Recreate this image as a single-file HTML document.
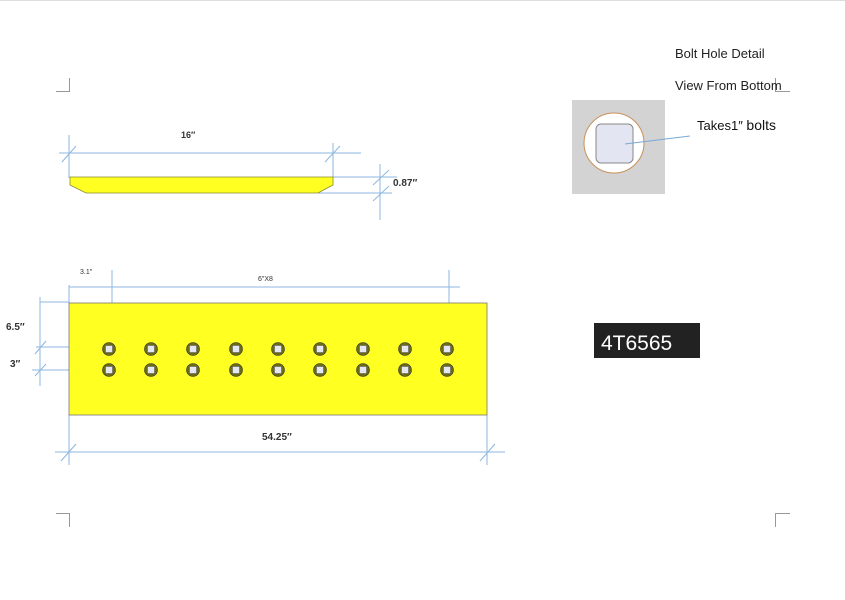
<!DOCTYPE html>
<html><head><style>
body{margin:0;background:#fff;}
svg{display:block;font-family:"Liberation Sans",sans-serif;}
</style></head><body>
<svg width="845" height="600" viewBox="0 0 845 600">
<defs>
<g id="h">
<circle cx="0" cy="0" r="6.5" fill="#6b6b10" stroke="#333" stroke-width="0.6"/>
<rect x="-3.5" y="-3.5" width="7" height="7" fill="#e4e6f0" stroke="#555" stroke-width="0.5"/>
</g>
</defs>
<rect width="845" height="600" fill="#fff"/>
<line x1="0" y1="0.5" x2="845" y2="0.5" stroke="#ddd"/>
<g stroke="#999" fill="none" stroke-width="1">
<path d="M69.5 78 V91.5 H56"/>
<path d="M775.5 78 V91.5 H790"/>
<path d="M56 513.5 H69.5 V527"/>
<path d="M790 513.5 H775.5 V527"/>
</g>
<g stroke="#8fb7e0" stroke-width="1" fill="none">
<line x1="59" y1="153" x2="361" y2="153"/>
<line x1="69" y1="135" x2="69" y2="178"/>
<line x1="333" y1="143" x2="333" y2="178"/>
<line x1="62" y1="162" x2="76" y2="146"/>
<line x1="325" y1="162" x2="340" y2="146"/>
<line x1="333" y1="177" x2="397" y2="177"/>
<line x1="318" y1="193" x2="392" y2="193"/>
<line x1="380" y1="164" x2="380" y2="220"/>
<line x1="373" y1="185" x2="389" y2="170"/>
<line x1="373" y1="201" x2="389" y2="186"/>
</g>
<polygon points="70,177 333,177 333,185 318,193 86,193 70,185" fill="#ffff22" stroke="#8a8a30" stroke-width="0.8"/>
<text x="181" y="138" font-size="9" font-weight="bold" fill="#333">16″</text>
<text x="393" y="186" font-size="10" font-weight="bold" fill="#333">0.87″</text>
<g stroke="#8fb7e0" stroke-width="1" fill="none">
<line x1="69" y1="287" x2="460" y2="287"/>
<line x1="112" y1="270" x2="112" y2="303"/>
<line x1="449" y1="270" x2="449" y2="303"/>
<line x1="69" y1="285" x2="69" y2="303"/>
<line x1="40" y1="302" x2="69" y2="302"/>
<line x1="40" y1="297" x2="40" y2="386"/>
<line x1="36" y1="347" x2="69" y2="347"/>
<line x1="32" y1="370" x2="69" y2="370"/>
<line x1="35" y1="354" x2="46" y2="341"/>
<line x1="35" y1="376" x2="46" y2="364"/>
<line x1="55" y1="452" x2="505" y2="452"/>
<line x1="69" y1="415" x2="69" y2="465"/>
<line x1="487" y1="415" x2="487" y2="465"/>
<line x1="61" y1="461" x2="76" y2="444"/>
<line x1="480" y1="461" x2="495" y2="444"/>
</g>
<rect x="69" y="303" width="418" height="112" fill="#ffff22" stroke="#777" stroke-width="0.8"/>
<g>
<use href="#h" x="109" y="349"/><use href="#h" x="151" y="349"/><use href="#h" x="193" y="349"/><use href="#h" x="236" y="349"/><use href="#h" x="278" y="349"/><use href="#h" x="320" y="349"/><use href="#h" x="363" y="349"/><use href="#h" x="405" y="349"/><use href="#h" x="447" y="349"/>
<use href="#h" x="109" y="370"/><use href="#h" x="151" y="370"/><use href="#h" x="193" y="370"/><use href="#h" x="236" y="370"/><use href="#h" x="278" y="370"/><use href="#h" x="320" y="370"/><use href="#h" x="363" y="370"/><use href="#h" x="405" y="370"/><use href="#h" x="447" y="370"/>
</g>
<text x="80" y="274" font-size="7" fill="#333">3.1"</text>
<text x="258" y="281" font-size="7" fill="#333">6"X8</text>
<text x="6" y="330" font-size="10" font-weight="bold" fill="#333">6.5″</text>
<text x="10" y="367" font-size="10" font-weight="bold" fill="#333">3″</text>
<text x="262" y="440" font-size="10" font-weight="bold" fill="#333">54.25″</text>
<text x="675" y="58" font-size="13" fill="#222">Bolt Hole Detail</text>
<text x="675" y="90" font-size="13" fill="#222">View From Bottom</text>
<rect x="572" y="100" width="93" height="94" fill="#d3d3d3"/>
<circle cx="614" cy="143" r="30" fill="#fff" stroke="#c8905a" stroke-width="1"/>
<rect x="596" y="124" width="37" height="39" rx="5" fill="#e3e6f2" stroke="#888" stroke-width="1"/>
<line x1="625" y1="144" x2="690" y2="136" stroke="#7aa8d8" stroke-width="1"/>
<text x="697" y="130" font-size="13" fill="#111">Takes1″ <tspan font-size="14">bolts</tspan></text>
<rect x="594" y="323" width="106" height="35" fill="#222"/>
<text x="601" y="350" font-size="21" fill="#fff">4T6565</text>
</svg>
</body></html>
